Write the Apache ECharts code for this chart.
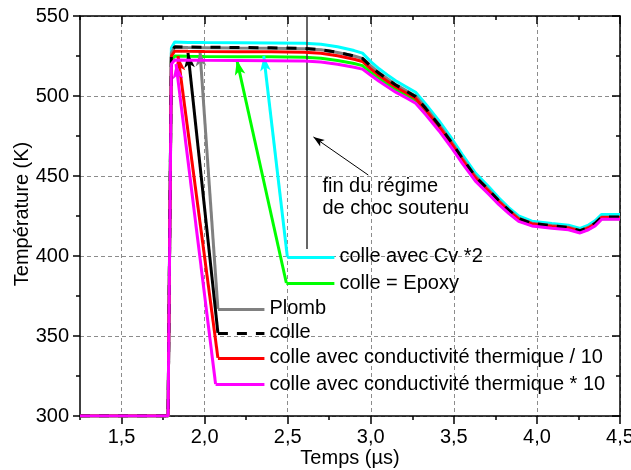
<!DOCTYPE html>
<html><head><meta charset="utf-8">
<script src="https://cdn.jsdelivr.net/npm/echarts@6/dist/echarts.min.js"></script>
<style>html,body{margin:0;padding:0;background:#fff}#c{width:631px;height:470px}</style>
</head><body><div id="c"></div>
<script>
// ---- data ----
const timeUs = [1.25, 1.78, 1.80, 1.82, 1.9, 2.0, 2.2, 2.4, 2.6, 2.7, 2.8, 2.9, 2.95, 3.0, 3.05, 3.1, 3.15, 3.22, 3.27, 3.33, 3.41, 3.49, 3.55, 3.63, 3.71, 3.77, 3.83, 3.89, 3.97, 4.09, 4.19, 4.26, 4.31, 4.35, 4.39, 4.5];
const plomb          = [300, 300, 527, 530.5, 530.3, 530.2, 530.0, 529.9, 529.6, 528.9, 527.2, 525.0, 523.5, 518.8, 514.5, 510.8, 507.1, 503.0, 500.0, 492.8, 482.3, 470.8, 461.4, 449.9, 441.4, 434.8, 428.9, 423.6, 420.5, 419.0, 418.0, 415.9, 418.0, 420.5, 424.4, 424.4];
const colle          = [300, 300, 527, 530.8, 530.6, 530.5, 530.3, 530.1, 529.8, 529.0, 527.3, 525.0, 523.5, 518.5, 514.2, 510.5, 506.9, 502.7, 499.6, 492.3, 481.9, 470.4, 461.1, 449.6, 441.2, 434.6, 428.7, 423.5, 420.4, 418.9, 417.9, 415.8, 417.9, 420.4, 424.3, 424.3];
const colleCondDiv10 = [300, 300, 525, 528.0, 527.9, 527.8, 527.7, 527.6, 527.3, 526.7, 525.2, 523.0, 521.6, 517.0, 512.8, 509.2, 505.6, 501.6, 498.5, 491.3, 481.0, 469.6, 460.3, 448.9, 440.5, 434.0, 428.2, 423.0, 420.0, 418.5, 417.5, 415.4, 417.5, 420.0, 424.0, 424.0];
const colleCondMul10 = [300, 300, 520, 522.5, 522.4, 522.3, 522.2, 522.1, 521.9, 521.3, 519.9, 518.0, 516.8, 513.0, 509.2, 505.8, 502.4, 498.5, 495.5, 488.4, 478.3, 467.1, 458.0, 446.8, 438.6, 432.2, 426.6, 421.6, 418.8, 417.4, 416.4, 414.4, 416.4, 418.8, 423.0, 423.0];
const colleEpoxy     = [300, 300, 522, 525.0, 524.8, 524.7, 524.6, 524.5, 524.2, 523.6, 522.2, 520.3, 519.0, 514.8, 510.8, 507.4, 503.9, 500.0, 496.9, 489.8, 479.6, 468.3, 459.1, 447.8, 439.5, 433.0, 427.3, 422.2, 419.2, 417.8, 416.8, 414.8, 416.8, 419.2, 423.3, 423.3];
const colleCv2       = [300, 300, 530, 533.8, 533.5, 533.4, 533.3, 533.2, 533.0, 532.4, 530.8, 528.4, 526.8, 521.5, 517.0, 513.2, 509.5, 505.3, 502.3, 495.0, 484.6, 473.0, 463.5, 451.8, 443.2, 436.4, 430.3, 425.0, 421.8, 420.3, 419.3, 417.2, 419.3, 422.0, 426.0, 426.0];
const xTickLabels = [1.5, 2.0, 2.5, 3.0, 3.5, 4.0, 4.5];
const yTickLabels = [300, 350, 400, 450, 500, 550];
const seriesNames = ['colle avec Cv *2', 'colle = Epoxy', 'Plomb', 'colle avec conductivité thermique / 10', 'colle', 'colle avec conductivité thermique * 10'];
const seriesValues = [colleCv2, colleEpoxy, plomb, colleCondDiv10, colle, colleCondMul10];

// ---- annotation anchors (data units) ----
// [tipT, tipV, cornerT, cornerV, endT]
const leaders = [
  [2.356, 525.0, 2.498, 399.4, 2.781],
  [2.194, 522.5, 2.492, 383.1, 2.781],
  [1.972, 528.0, 2.080, 366.9, 2.360],
  [1.840, 525.0, 2.080, 336.3, 2.360],
  [1.900, 527.0, 2.080, 351.9, 2.360],
  [1.828, 520.0, 2.066, 320.0, 2.360]
];
const colors = ['#00ffff', '#00ff00', '#808080', '#ff0000', '#000000', '#ff00ff'];
const dashed = [false, false, false, false, true, false];
const FONT = '"Liberation Sans", Arial, sans-serif';
const FS = 20;

const chart = echarts.init(document.getElementById('c'), null, {renderer: 'canvas'});
const axisLineStyle = {color: '#000', width: 1.5};

const series = seriesValues.map((vals, i) => {
  const L = leaders[i];
  const lt = dashed[i] ? [10, 9] : 'solid';
  return {
    name: seriesNames[i], type: 'line', xAxisIndex: 0, yAxisIndex: 0,
    data: timeUs.map((t, k) => [t, vals[k]]),
    showSymbol: false, symbol: 'none', animation: false, silent: true,
    lineStyle: {color: colors[i], width: 3, type: lt},
    itemStyle: {color: colors[i]},
    z: 2 + i,
    markLine: {
      silent: true, animation: false, symbolSize: [8, 15],
      lineStyle: {color: colors[i], width: 3, type: 'solid'},
      label: {show: false},
      emphasis: {disabled: true},
      data: [
        [{coord: [L[2], L[3]], symbol: 'none'}, {coord: [L[0], L[1]], symbol: 'arrow'}],
        [{coord: [L[2], L[3]], symbol: 'none', lineStyle: {type: lt, color: colors[i], width: 3}},
         {coord: [L[4], L[3]], symbol: 'none',
          label: {show: true, position: 'end', distance: 5, formatter: seriesNames[i], color: '#000', fontSize: FS, fontFamily: FONT}}]
      ]
    }
  };
});

// marker: end of sustained shock regime
series.push({
  type: 'line', data: [], xAxisIndex: 0, yAxisIndex: 0, silent: true, animation: false,
  markLine: {
    silent: true, animation: false, symbolSize: [6, 11],
    label: {show: false}, emphasis: {disabled: true},
    data: [
      [{coord: [2.613, 550], symbol: 'none', lineStyle: {color: '#333', width: 1.5, type: 'solid'}}, {coord: [2.613, 404.4], symbol: 'none'}],
      [{coord: [2.985, 450.6], symbol: 'none', lineStyle: {color: '#000', width: 1, type: 'solid'}}, {coord: [2.655, 474.4], symbol: 'arrow'}]
    ]
  }
});

const xCommon = {type: 'value', min: 1.25, max: 4.5, interval: 0.25};
const yCommon = {type: 'value', min: 300, max: 550, interval: 50};

chart.setOption({
  animation: false,
  backgroundColor: '#fff',
  grid: {left: 80, right: 11, top: 16, bottom: 54, containLabel: false, outerBoundsMode: 'none'},
  xAxis: [
    Object.assign({}, xCommon, {
      position: 'bottom',
      axisLine: {show: true, onZero: false, lineStyle: axisLineStyle},
      axisTick: {show: true, inside: false, length: 8, customValues: xTickLabels, lineStyle: axisLineStyle},
      axisLabel: {show: true, customValues: xTickLabels, formatter: v => Number(v).toFixed(1).replace('.', ','), fontSize: FS, color: '#000', fontFamily: FONT, margin: 11},
      splitLine: {show: true, lineStyle: {color: '#8c8c8c', type: [4, 3], width: 1}},
      name: 'Temps (µs)', nameLocation: 'middle', nameGap: 32, nameMoveOverlap: false,
      nameTextStyle: {fontSize: FS, color: '#000', fontFamily: FONT}
    }),
    Object.assign({}, xCommon, {
      position: 'bottom', axisLine: {show: false}, axisLabel: {show: false}, splitLine: {show: false},
      axisTick: {show: true, inside: false, length: 4, lineStyle: axisLineStyle}
    }),
    Object.assign({}, xCommon, {
      position: 'top', axisLine: {show: true, onZero: false, lineStyle: axisLineStyle}, axisLabel: {show: false}, splitLine: {show: false},
      axisTick: {show: true, inside: true, length: 8, customValues: xTickLabels, lineStyle: axisLineStyle}
    }),
    Object.assign({}, xCommon, {
      position: 'top', axisLine: {show: false}, axisLabel: {show: false}, splitLine: {show: false},
      axisTick: {show: true, inside: true, length: 4, lineStyle: axisLineStyle}
    })
  ],
  yAxis: [
    Object.assign({}, yCommon, {
      position: 'left',
      axisLine: {show: true, onZero: false, lineStyle: axisLineStyle},
      axisTick: {show: true, inside: false, length: 7, lineStyle: axisLineStyle},
      minorTick: {show: true, splitNumber: 2, length: 4, lineStyle: axisLineStyle},
      axisLabel: {show: true, fontSize: FS, color: '#000', fontFamily: FONT, margin: 11},
      splitLine: {show: true, lineStyle: {color: '#8c8c8c', type: [4, 3], width: 1}},
      name: 'Température (K)', nameLocation: 'middle', nameGap: 48, nameMoveOverlap: false,
      nameTextStyle: {fontSize: FS, color: '#000', fontFamily: FONT, padding: [0, 0, 0, 4]}
    }),
    Object.assign({}, yCommon, {
      position: 'right',
      axisLine: {show: true, onZero: false, lineStyle: axisLineStyle},
      axisTick: {show: true, inside: true, length: 8, lineStyle: axisLineStyle},
      minorTick: {show: true, splitNumber: 2, length: 4, lineStyle: axisLineStyle},
      axisLabel: {show: false}, splitLine: {show: false}
    })
  ],
  series: series
});

// text annotation positioned through the axes
const noteLines = [['fin du régime', 2.709, 443.75], ['de choc soutenu', 2.709, 430.0]];
chart.setOption({
  graphic: noteLines.map(n => {
    const p = chart.convertToPixel({xAxisIndex: 0, yAxisIndex: 0}, [n[1], n[2]]);
    return {type: 'text', x: p[0], y: p[1], silent: true, z: 100,
      style: {text: n[0], fill: '#000', fontSize: FS, fontFamily: FONT, align: 'left', verticalAlign: 'middle'}};
  })
});
</script></body></html>
